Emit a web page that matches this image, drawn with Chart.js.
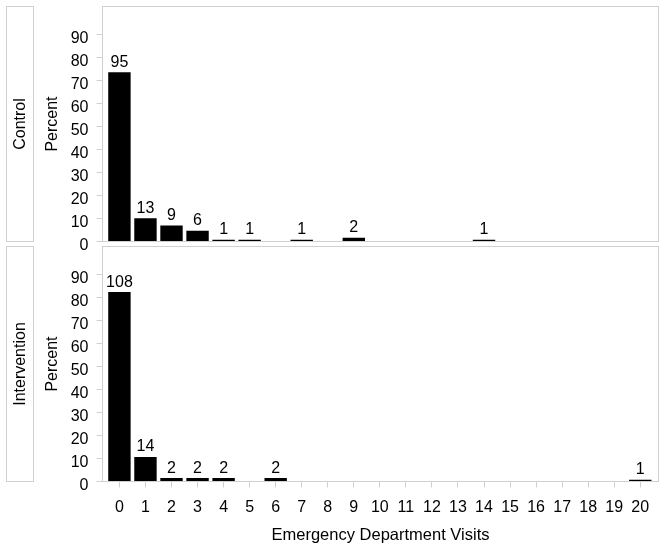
<!DOCTYPE html>
<html>
<head>
<meta charset="utf-8">
<script src="https://cdn.jsdelivr.net/npm/chart.js@4/dist/chart.umd.min.js"></script>
<style>
  body { margin: 0; background: #fff; }
  #wrap { position: relative; width: 665px; height: 549px; }
  #wrap > div { position: absolute; left: 0; width: 665px; }
</style>
</head>
<body>
<div id="wrap">
  <div style="top:245px;height:304px"><canvas id="graficoIntervencao"></canvas></div>
  <div style="top:0;height:256px;z-index:2"><canvas id="graficoControle"></canvas></div>
</div>
<script>
// Dados (percentual por numero de visitas e contagem acima de cada barra)
const visitas = [0, 1, 2, 3, 4, 5, 6, 7, 8, 9, 10, 11, 12, 13, 14, 15, 16, 17, 18, 19, 20];
const percentControle = [73.6, 10.1, 7.0, 4.7, 0.8, 0.8, 0, 0.8, 0, 1.6, 0, 0, 0, 0, 0.8, 0, 0, 0, 0, 0, 0];
const contagemControle = [95, 13, 9, 6, 1, 1, 0, 1, 0, 2, 0, 0, 0, 0, 1, 0, 0, 0, 0, 0, 0];
const percentIntervencao = [82.4, 10.7, 1.5, 1.5, 1.5, 0, 1.5, 0, 0, 0, 0, 0, 0, 0, 0, 0, 0, 0, 0, 0, 0.8];
const contagemIntervencao = [108, 14, 2, 2, 2, 0, 2, 0, 0, 0, 0, 0, 0, 0, 0, 0, 0, 0, 0, 0, 1];
const ticksY = [0, 10, 20, 30, 40, 50, 60, 70, 80, 90];

const fonte = { family: '"Liberation Sans", Arial, sans-serif', size: 16 };
const cinza = '#d0d0d0';

// Desenha moldura, faixa lateral, titulos e contagens
const pluginPainel = {
  id: 'painel',
  afterDraw(chart, args, opts) {
    const ctx = chart.ctx;
    const a = chart.chartArea;
    const meio = (a.top + a.bottom) / 2;
    ctx.save();
    ctx.strokeStyle = cinza;
    ctx.lineWidth = 1;
    ctx.strokeRect(a.left, a.top, a.right - a.left, a.bottom - a.top);
    ctx.strokeRect(6.5, a.top, 27, a.bottom - a.top);

    ctx.fillStyle = '#000';
    ctx.font = '16px ' + fonte.family;
    ctx.textAlign = 'center';
    ctx.textBaseline = 'middle';
    [[20.5, opts.rotulo], [53, 'Percent']].forEach(([x, txt]) => {
      ctx.save();
      ctx.translate(x, meio);
      ctx.rotate(-Math.PI / 2);
      ctx.fillText(txt, 0, 0);
      ctx.restore();
    });

    if (opts.tituloX) {
      ctx.font = '16.5px ' + fonte.family;
      ctx.fillText(opts.tituloX, (a.left + a.right) / 2, 535 - 245);
      ctx.font = '16px ' + fonte.family;
    }

    // contagens acima das barras
    ctx.textBaseline = 'alphabetic';
    const meta = chart.getDatasetMeta(0);
    meta.data.forEach((barra, i) => {
      const n = opts.contagens[i];
      if (!n) return;
      ctx.fillText(String(n), barra.x, barra.y - 5.5);
    });
    ctx.restore();
  }
};

function criarGrafico(id, rotulo, percentuais, contagens, tituloX) {
  const mostrarX = !!tituloX;
  const eixoX = {
    type: 'linear',
    min: -0.65,
    max: 20.7,
    offset: false,
    display: mostrarX,
    grid: { drawOnChartArea: false, tickLength: 6, color: cinza, offset: false },
    border: { display: false },
    ticks: { font: fonte, color: '#000', padding: 10, autoSkip: false, maxRotation: 0 },
    afterBuildTicks: s => { s.ticks = visitas.map(v => ({ value: v })); }
  };
  if (mostrarX) {
    eixoX.afterFit = s => { s.height = 67.5; s.paddingLeft = 0; s.paddingRight = 0; };
  }

  return new Chart(document.getElementById(id), {
    type: 'bar',
    data: {
      datasets: [{
        data: visitas.map((v, i) => ({ x: v, y: percentuais[i] })),
        backgroundColor: '#000',
        borderWidth: 0,
        barPercentage: 0.86,
        categoryPercentage: 1
      }]
    },
    options: {
      responsive: true,
      maintainAspectRatio: false,
      animation: false,
      layout: { padding: { left: 0, right: 6.5, top: mostrarX ? 1.5 : 6.5, bottom: mostrarX ? 0 : 14.5 } },
      plugins: {
        legend: { display: false },
        tooltip: { enabled: false },
        painel: { rotulo, contagens, tituloX }
      },
      scales: {
        x: eixoX,
        y: {
          min: 0,
          max: 102.2,
          grid: { drawOnChartArea: false, tickLength: 6, color: cinza },
          border: { display: false },
          ticks: { font: fonte, color: '#000', padding: 8, labelOffset: 4 },
          afterBuildTicks: s => { s.ticks = ticksY.map(v => ({ value: v })); },
          afterFit: s => { s.width = 102.5; s.paddingTop = 0; s.paddingBottom = 0; }
        }
      }
    },
    plugins: [pluginPainel]
  });
}

criarGrafico('graficoControle', 'Control', percentControle, contagemControle, null);
criarGrafico('graficoIntervencao', 'Intervention', percentIntervencao, contagemIntervencao, 'Emergency Department Visits');
</script>
</body>
</html>
